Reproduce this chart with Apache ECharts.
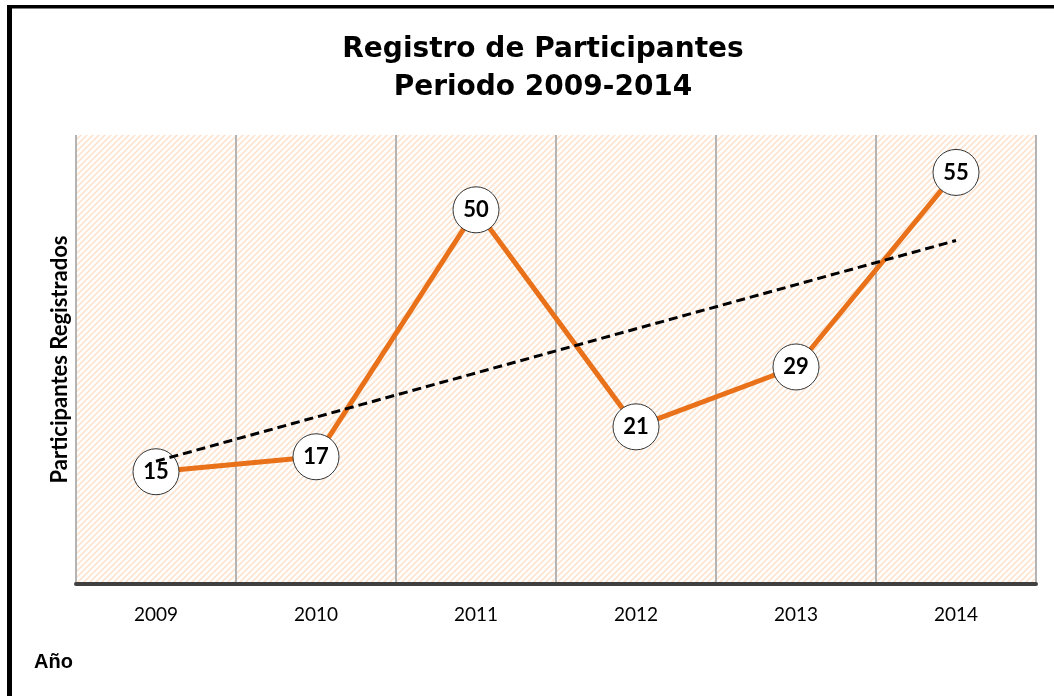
<!DOCTYPE html>
<html>
<head>
<meta charset="utf-8">
<script src="https://cdn.jsdelivr.net/npm/echarts@6/dist/echarts.min.js"></script>
<style>
html,body{margin:0;padding:0;background:#fff;}
#c{width:1054px;height:696px;}
</style>
</head>
<body>
<div id="c"></div>
<script>
var categories = ['2009', '2010', '2011', '2012', '2013', '2014'];
var participants = [15, 17, 50, 21, 29, 55];
var trendStart = 16.4;
var trendEnd = 45.9;

var pc = document.createElement('canvas');
pc.width = 6; pc.height = 6;
var g = pc.getContext('2d');
g.fillStyle = '#ffffff';
g.fillRect(0, 0, 6, 6);
g.strokeStyle = '#fde4d0';
g.lineWidth = 1.6;
g.beginPath();
g.moveTo(-1, 7); g.lineTo(7, -1);
g.moveTo(-4, 4); g.lineTo(4, -4);
g.moveTo(2, 10); g.lineTo(10, 2);
g.stroke();

var chart = echarts.init(document.getElementById('c'));
chart.setOption({
  animation: false,
  backgroundColor: '#fff',
  title: {
    text: 'Registro de Participantes\nPeriodo 2009-2014',
    left: 538, top: 26, textAlign: 'center',
    textStyle: { fontFamily: 'DejaVu Sans', fontWeight: 'bold', fontSize: 28, lineHeight: 38, color: '#000' }
  },
  grid: {
    left: 76, right: 18, top: 135, bottom: 112,
    show: true, borderWidth: 0,
    backgroundColor: { image: pc, repeat: 'repeat' }
  },
  xAxis: {
    type: 'category', data: categories, boundaryGap: true,
    axisLine: { lineStyle: { color: '#404040', width: 4 } },
    axisTick: { show: false },
    axisLabel: { color: '#000', fontFamily: 'Lato', fontSize: 19, margin: 21 },
    splitLine: { show: true, lineStyle: { color: '#b4b4b4', width: 2 } }
  },
  yAxis: {
    type: 'value', min: 0, max: 60,
    name: 'Participantes Registrados', nameLocation: 'middle', nameGap: 5,
    nameTextStyle: { fontFamily: 'Lato', fontWeight: 'bold', fontSize: 22, color: '#000' },
    axisLine: { show: false }, axisTick: { show: false }, axisLabel: { show: false },
    splitLine: { show: false }
  },
  graphic: [
    { type: 'text', left: 34, top: 652, style: { text: 'Año', font: 'bold 20px "Liberation Sans"', fill: '#000' } },
    { type: 'rect', shape: { x: 7, y: 5, width: 5, height: 700 }, style: { fill: '#000' } },
    { type: 'rect', shape: { x: 7, y: 5, width: 1060, height: 3.5 }, style: { fill: '#000' } }
  ],
  series: [
    {
      type: 'line', data: participants, z: 2,
      lineStyle: { color: '#e8711a', width: 5 },
      symbol: 'circle', symbolSize: 46,
      itemStyle: { color: '#fff', borderColor: '#333', borderWidth: 1 },
      label: { show: true, position: 'inside', fontFamily: 'Lato', fontWeight: 'bold', fontSize: 22, color: '#000' }
    },
    {
      type: 'line', z: 3, data: [[0, trendStart], [5, trendEnd]],
      symbol: 'none', silent: true,
      lineStyle: { color: '#000', width: 3, type: [9, 5] }
    }
  ]
});
</script>
</body>
</html>
